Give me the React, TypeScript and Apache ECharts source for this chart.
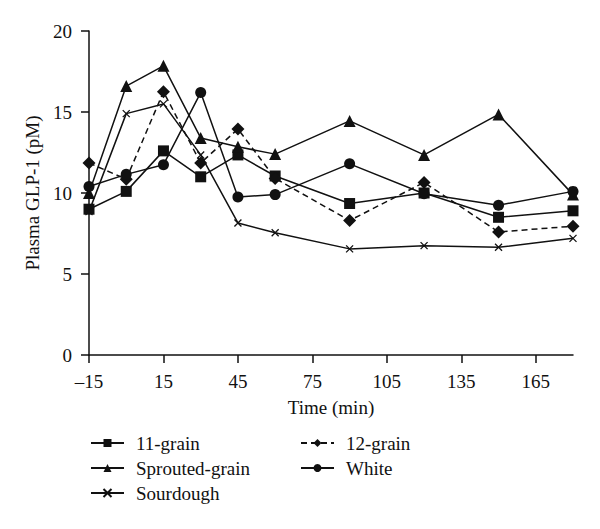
import React, { useEffect, useRef } from "react";
import * as echarts from "echarts";

const times = [-15, 0, 15, 30, 45, 60, 90, 120, 150, 180];
const tickValues = [-15, 15, 45, 75, 105, 135, 165];
const grain11 = [9.0, 10.1, 12.6, 11.0, 12.35, 11.05, 9.35, 10.0, 8.5, 8.9];
const sprouted = [10.0, 16.6, 17.85, 13.4, 12.85, 12.4, 14.45, 12.35, 14.85, 9.9];
const sourdough = [8.85, 14.9, 15.5, 12.35, 8.15, 7.55, 6.55, 6.75, 6.65, 7.2];
const grain12 = [11.85, 10.85, 16.25, 11.85, 13.95, 10.9, 8.3, 10.65, 7.6, 7.95];
const white = [10.4, 11.15, 11.75, 16.2, 9.75, 9.9, 11.8, 9.95, 9.25, 10.1];

const FONT = "Liberation Serif";
const INK = "#111";
const FS = 19;

const pair = (ys: number[]) => times.map((t, i) => [t, ys[i]]);

export default function App() {
  const ref = useRef<HTMLDivElement>(null);
  useEffect(() => {
    if (!ref.current) return;
    const chart = echarts.init(ref.current, null, { renderer: "svg" });
    const base = (name: string, ys: number[], symbol: string, size: number, dashed = false) => ({
      name,
      type: "line",
      data: pair(ys),
      symbol,
      symbolSize: size,
      showAllSymbol: true,
      lineStyle: { color: INK, width: 1.5, type: dashed ? [6, 4] : "solid" },
      itemStyle: { color: INK, borderColor: INK, borderWidth: symbol.startsWith("path") ? 1.3 : 0 },
      emphasis: { disabled: true },
    });
    const legendCommon = {
      orient: "vertical",
      top: 433,
      padding: 0,
      itemWidth: 33,
      itemHeight: 10,
      itemGap: 5,
      textStyle: { fontFamily: FONT, fontSize: FS, color: INK, lineHeight: 20, padding: [0, 0, 0, 7] },
      selectedMode: false,
    };
    chart.setOption({
      animation: false,
      grid: { left: 89, right: 27, top: 31, bottom: 174 },
      xAxis: {
        type: "value",
        min: -15,
        max: 180,
        name: "Time (min)",
        nameLocation: "middle",
        nameGap: 43,
        nameTextStyle: { fontFamily: FONT, fontSize: FS, color: INK },
        axisLine: { onZero: false, lineStyle: { color: INK, width: 1.5 } },
        axisTick: { show: true, length: 8, lineStyle: { color: INK, width: 1.5 }, customValues: tickValues },
        axisLabel: {
          fontFamily: FONT,
          fontSize: FS,
          color: INK,
          margin: 17,
          customValues: tickValues,
          formatter: (v: number) => (v < 0 ? "\u2013" + Math.abs(v) : String(v)),
        },
        splitLine: { show: false },
      },
      yAxis: {
        type: "value",
        min: 0,
        max: 20,
        interval: 5,
        name: "Plasma GLP-1 (pM)",
        nameLocation: "middle",
        nameGap: 47,
        nameTextStyle: { fontFamily: FONT, fontSize: FS, color: INK },
        axisLine: { show: true, onZero: false, lineStyle: { color: INK, width: 1.5 } },
        axisTick: { show: true, length: 8, lineStyle: { color: INK, width: 1.5 } },
        axisLabel: { fontFamily: FONT, fontSize: FS, color: INK, margin: 17 },
        splitLine: { show: false },
      },
      legend: [
        { ...legendCommon, left: 90, data: ["11-grain", "Sprouted-grain", "Sourdough"] },
        { ...legendCommon, left: 300, data: ["12-grain", "White"] },
      ],
      series: [
        base("11-grain", grain11, "rect", 11),
        base("Sprouted-grain", sprouted, "triangle", 12),
        base("Sourdough", sourdough, "path://M0,0L10,10M10,0L0,10", 7),
        base("12-grain", grain12, "diamond", 13, true),
        base("White", white, "circle", 11),
      ],
    });
    return () => chart.dispose();
  }, []);
  return <div ref={ref} style={{ width: 600, height: 529, margin: -8 }} />;
}
